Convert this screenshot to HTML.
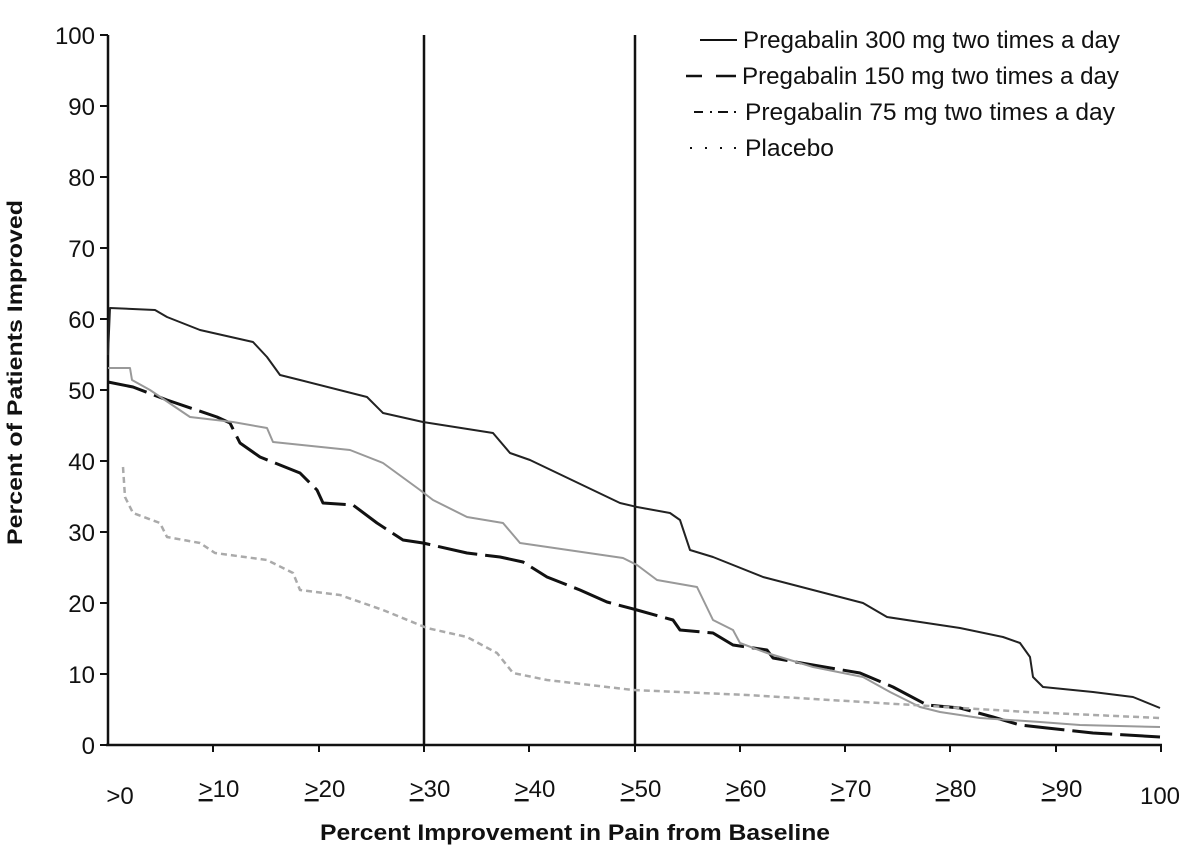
<!DOCTYPE html><html><head><style>body{margin:0;background:#fff}svg{display:block}text{font-family:"Liberation Sans",Arial,sans-serif;fill:#111}</style></head><body>
<svg width="1200" height="849" viewBox="0 0 1200 849">
<g stroke="#111" stroke-width="2.5" fill="none">
<line x1="108" y1="35" x2="108" y2="746"/><line x1="106" y1="745" x2="1162" y2="745"/>
<line x1="424" y1="35" x2="424" y2="745"/><line x1="635" y1="35" x2="635" y2="745"/>
</g>
<g stroke="#111" stroke-width="2">
<path d="M100 35H108M100 106H108M100 177H108M100 248H108M100 319H108M100 390H108M100 461H108M100 532H108M100 603H108M100 674H108M100 745H108"/>
<path d="M213 745V752M319 745V752M424 745V752M529 745V752M635 745V752M740 745V752M845 745V752M950 745V752M1056 745V752M1161 745V752"/>
</g>
<g font-size="24" text-anchor="end">
<text x="95" y="44">100</text><text x="95" y="115">90</text><text x="95" y="186">80</text><text x="95" y="257">70</text><text x="95" y="328">60</text><text x="95" y="399">50</text><text x="95" y="470">40</text><text x="95" y="541">30</text><text x="95" y="612">20</text><text x="95" y="683">10</text><text x="95" y="754">0</text>
</g>
<g font-size="24" text-anchor="middle">
<text x="120" y="804">&gt;0</text><text x="219" y="797"><tspan text-decoration="underline">&gt;</tspan>10</text><text x="325" y="797"><tspan text-decoration="underline">&gt;</tspan>20</text><text x="430" y="797"><tspan text-decoration="underline">&gt;</tspan>30</text><text x="535" y="797"><tspan text-decoration="underline">&gt;</tspan>40</text><text x="641" y="797"><tspan text-decoration="underline">&gt;</tspan>50</text><text x="746" y="797"><tspan text-decoration="underline">&gt;</tspan>60</text><text x="851" y="797"><tspan text-decoration="underline">&gt;</tspan>70</text><text x="956" y="797"><tspan text-decoration="underline">&gt;</tspan>80</text><text x="1062" y="797"><tspan text-decoration="underline">&gt;</tspan>90</text><text x="1160" y="804">100</text>
</g>
<text x="320" y="840" font-size="22" font-weight="bold" textLength="510" lengthAdjust="spacingAndGlyphs">Percent Improvement in Pain from Baseline</text>
<text transform="translate(22,545) rotate(-90)" font-size="21" font-weight="bold" textLength="345" lengthAdjust="spacingAndGlyphs">Percent of Patients Improved</text>
<g fill="none" stroke-linejoin="round">
<polyline stroke="#222" stroke-width="2" points="108,355 110,308 155,310 167,317 200,330 253,342 267,357 280,375 300,380 367,397 383,413 423,422 493,433 510,453 530,460 620,503 637,507 670,513 680,520 690,550 713,557 763,577 863,603 887,617 920,622 960,628 1003,637 1020,643 1030,657 1033,677 1043,687 1093,692 1133,697 1160,708"/>
<polyline stroke="#111" stroke-width="3" stroke-dasharray="40,8" points="108,382 133,387 167,400 217,417 230,423 240,443 260,457 300,473 317,490 323,503 353,505 377,523 403,540 423,543 467,553 500,557 523,562 547,577 580,590 607,602 637,610 673,620 680,630 713,633 733,645 767,650 773,658 813,665 860,673 893,687 927,705 960,708 993,717 1020,725 1047,728 1093,733 1160,737"/>
<polyline stroke="#999" stroke-width="2" points="108,368 130,368 132,380 150,390 190,417 233,422 267,428 273,442 350,450 383,463 420,490 433,500 467,517 503,523 520,543 623,558 637,565 657,580 697,587 713,620 733,630 740,643 767,653 813,667 863,677 890,692 920,707 940,712 980,718 1040,722 1080,725 1160,727"/>
<polyline stroke="#aaa" stroke-width="2.5" stroke-dasharray="6,4" points="123,467 125,497 133,513 160,523 167,537 200,543 215,553 267,560 293,573 300,590 340,595 383,610 427,628 467,637 497,653 513,673 547,680 633,690 747,695 880,703 1027,712 1160,718"/>
</g>
<g stroke="#111" stroke-width="2">
<line x1="700" y1="40" x2="737" y2="40"/>
<line x1="686" y1="76" x2="702" y2="76" stroke-width="2.5"/><line x1="716" y1="76" x2="736" y2="76" stroke-width="2.5"/>
<path d="M694 112H703M710 112H712M718 112H728M734 112H736"/>
<path d="M690 148H692M705 148H707M720 148H722M734 148H736"/>
</g>
<g font-size="24">
<text x="743" y="48" textLength="377" lengthAdjust="spacingAndGlyphs">Pregabalin 300 mg two times a day</text>
<text x="742" y="84" textLength="377" lengthAdjust="spacingAndGlyphs">Pregabalin 150 mg two times a day</text>
<text x="745" y="120" textLength="370" lengthAdjust="spacingAndGlyphs">Pregabalin 75 mg two times a day</text>
<text x="745" y="156" textLength="89" lengthAdjust="spacingAndGlyphs">Placebo</text>
</g>
</svg></body></html>
